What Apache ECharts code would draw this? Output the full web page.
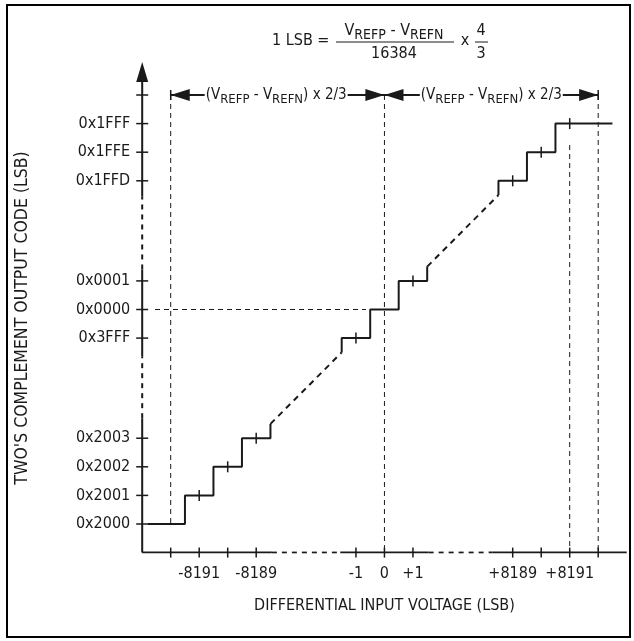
<!DOCTYPE html>
<html>
<head>
<meta charset="utf-8">
<script src="https://cdn.jsdelivr.net/npm/echarts@6.0.0/dist/echarts.min.js"></script>
<style>
html, body { margin: 0; padding: 0; background: #fff; }
#chart { width: 634px; height: 641px; }
</style>
</head>
<body>
<div id="chart"></div>
<script>
// broken scale: both axes are counted in "slots" (half a tick spacing)
var xTickSlots = [2, 4, 6, 8, 15, 17, 19, 26, 28, 30, 32];
var xTickLabels = ['', '-8191', '', '-8189', '-1', '0', '+1', '+8189', '', '+8191', ''];
var yTickSlots = [2, 4, 6, 8, 15, 17, 19, 26, 28, 30, 32];
var yTickLabels = ['0x2000', '0x2001', '0x2002', '0x2003', '0x3FFF', '0x0000', '0x0001', '0x1FFD', '0x1FFE', '0x1FFF', ''];

// output codes drawn as steps, centre slot of each code (same on x and y)
var lowCodes = [2, 4, 6, 8];
var midCodes = [15, 17, 19];
var highCodes = [26, 28, 30];

var FONT = "'Liberation Sans Narrow', 'DejaVu Sans Condensed', 'Arial Narrow', sans-serif";
var INK = '#1a1a1a';

// axis breaks (solid / dashed pieces of the axis lines)
var xSolid = [[0, 9.1], [13.9, 20.1], [24.6, 34]];
var xDashed = [[9.1, 13.9], [20.1, 24.6]];
var ySolid = [[0, 9.4], [13.7, 19.8], [24.9, 33.6]];
var yDashed = [[9.4, 13.7], [19.8, 24.9]];

function steps(codes, startX, endX, leadIn, tail) {
    var pts = [];
    var first = codes[0], last = codes[codes.length - 1];
    if (leadIn) pts.push([first - 1, first - 1]);
    for (var i = 0; i < codes.length; i++) {
        var c = codes[i];
        var l = (i == 0 && startX != null) ? startX : c - 1;
        var r = (i == codes.length - 1 && endX != null) ? endX : c + 1;
        pts.push([l, c]);
        pts.push([r, c]);
    }
    if (tail) pts.push([last + 1, last + 1]);
    return pts;
}

var series = [];

function line(data, width, dash, z) {
    series.push({
        type: 'line',
        data: data,
        showSymbol: false,
        silent: true,
        z: z || 2,
        lineStyle: { color: INK, width: width, type: dash || 'solid' }
    });
}

function marks(data, size, symbol, rotate) {
    series.push({
        type: 'scatter',
        data: data,
        symbol: symbol || 'rect',
        symbolSize: size,
        symbolRotate: rotate || 0,
        silent: true,
        z: 4,
        itemStyle: { color: INK, opacity: 1 }
    });
}

// axis lines
xSolid.forEach(function (s) { line([[s[0], 0], [s[1], 0]], 2); });
xDashed.forEach(function (s) { line([[s[0], 0], [s[1], 0]], 2, [5, 5]); });
ySolid.forEach(function (s) { line([[0, s[0]], [0, s[1]]], 2); });
yDashed.forEach(function (s) { line([[0, s[0]], [0, s[1]]], 2, [5, 5]); });
marks([[0, 33.6]], [12, 20], 'triangle');

// crossing ticks on the axes
marks(xTickSlots.map(function (s) { return [s, 0]; }), [1.5, 10]);
marks(yTickSlots.map(function (s) { return [0, s]; }), [12, 1.5]);

// reference dashed lines
line([[2, 32], [2, 2]], 1, [5, 4], 1);
line([[17, 32], [17, 0]], 1, [5, 4], 1);
line([[32, 32], [32, 0]], 1, [5, 4], 1);
line([[30, 28.5], [30, 0]], 1, [5, 4], 1);
line([[0.9, 17], [15.7, 17]], 1, [5, 4], 1);

// transfer function
line(steps(lowCodes, 0.4, null, false, true), 2, 'solid', 3);
line(steps(midCodes, null, null, true, true), 2, 'solid', 3);
line(steps(highCodes, null, 33, true, false), 2, 'solid', 3);
var lowEnd = lowCodes[lowCodes.length - 1] + 1, midEnd = midCodes[midCodes.length - 1] + 1;
line([[lowEnd, lowEnd], [midCodes[0] - 1, midCodes[0] - 1]], 2, [6, 5], 3);
line([[midEnd, midEnd], [highCodes[0] - 1, highCodes[0] - 1]], 2, [6, 5], 3);

// little ticks at code centres
var centres = [];
lowCodes.concat(midCodes, highCodes).forEach(function (c) {
    if (c != 2 && c != 17) centres.push([c, c]);
});
marks(centres, [1.5, 11]);

// span annotation: (VREFP - VREFN) x 2/3 on both sides of zero
line([[2, 32], [32, 32]], 2, 'solid', 2);
marks([[2, 32], [32, 32]], [1.5, 10]);
marks([[2.67, 32], [17.67, 32]], [12, 19], 'triangle', 90);
marks([[16.33, 32], [31.33, 32]], [12, 19], 'triangle', -90);
series.push({
    type: 'scatter',
    data: [[9.4, 32], [24.5, 32]],
    symbolSize: 0,
    silent: true,
    z: 5,
    itemStyle: { opacity: 1 },
    label: {
        show: true,
        position: 'inside',
        formatter: '(V{s|REFP} - V{s|REFN}) x 2/3',
        backgroundColor: '#fff',
        padding: [0, 1],
        color: INK,
        opacity: 1,
        textBorderWidth: 0,
        fontFamily: FONT,
        fontSize: 15,
        lineHeight: 22,
        rich: { s: { fontSize: 13, lineHeight: 14, verticalAlign: 'bottom', fontFamily: FONT, color: INK, textBorderWidth: 0 } }
    }
});

var myChart = echarts.init(document.getElementById('chart'));
var txt = { fontFamily: FONT, fontSize: 16, fill: INK, align: 'center', verticalAlign: 'middle' };
function t(x, y, s, extra) {
    var style = Object.assign({}, txt, { text: s }, extra || {});
    return { type: 'text', x: x, y: y, silent: true, style: style };
}

var option = {
    animation: false,
    grid: { left: 142.2, top: 52.1, width: 484.5, height: 500.5 },
    xAxis: {
        type: 'value', min: 0, max: 34,
        axisLine: { show: false }, axisTick: { show: false }, splitLine: { show: false },
        axisLabel: {
            customValues: xTickSlots,
            formatter: function (v) { return xTickLabels[xTickSlots.indexOf(v)] || ''; },
            margin: 13, fontSize: 16, fontFamily: FONT, color: INK
        },
        name: 'DIFFERENTIAL INPUT VOLTAGE (LSB)',
        nameLocation: 'middle',
        nameGap: 45,
        nameTextStyle: { fontSize: 16, fontFamily: FONT, color: INK }
    },
    yAxis: {
        type: 'value', min: 0, max: 35,
        axisLine: { show: false }, axisTick: { show: false }, splitLine: { show: false },
        axisLabel: {
            customValues: yTickSlots,
            formatter: function (v) { return yTickLabels[yTickSlots.indexOf(v)] || ''; },
            margin: 12, fontSize: 16, fontFamily: FONT, color: INK
        }
    },
    graphic: [
        { type: 'rect', silent: true, shape: { x: 7, y: 5, width: 623, height: 632 },
          style: { fill: 'none', stroke: '#000', lineWidth: 2 } },
        t(22, 318, "TWO'S COMPLEMENT OUTPUT CODE (LSB)", { fontSize: 17.5 }),
        t(272, 41, '1 LSB =', { align: 'left' }),
        t(394, 31, 'V{s|REFP} - V{s|REFN}', {
            lineHeight: 22,
            rich: { s: { fontSize: 14, lineHeight: 14, verticalAlign: 'bottom', fontFamily: FONT, fill: INK } }
        }),
        { type: 'line', silent: true, shape: { x1: 336, y1: 42, x2: 454, y2: 42 }, style: { stroke: INK, lineWidth: 1 } },
        t(394, 54, '16384'),
        t(465, 41, 'x'),
        t(481, 31, '4'),
        { type: 'line', silent: true, shape: { x1: 475, y1: 42, x2: 488, y2: 42 }, style: { stroke: INK, lineWidth: 1 } },
        t(481, 54, '3')
    ],
    series: series
};
// y title is rotated
option.graphic[1].rotation = Math.PI / 2;

myChart.setOption(option);
</script>
</body>
</html>
